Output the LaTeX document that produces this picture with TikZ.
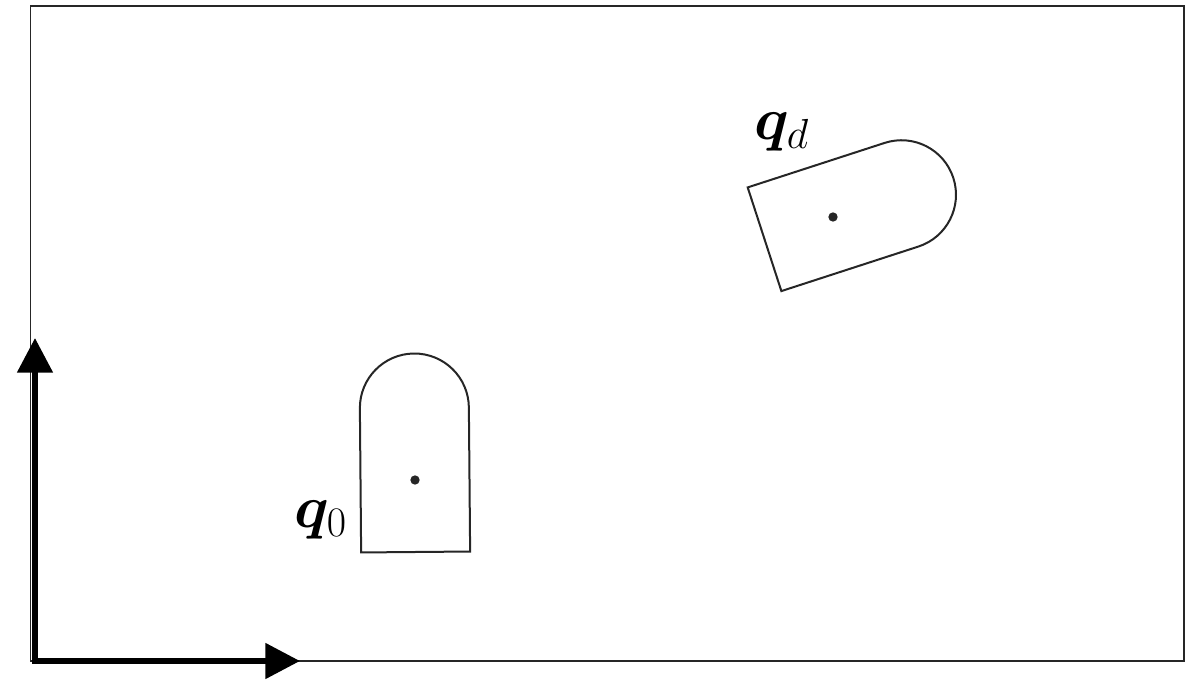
\RequirePackage{fix-cm}
\documentclass[tikz,border=0pt]{standalone}
\usepackage{amsmath,bm}
\usetikzlibrary{arrows.meta}
\begin{document}
\begin{tikzpicture}[x=0.75pt,y=0.75pt,
  frameline/.style={line width=1.4pt,draw=black!85},
  axisline/.style={line width=4.5pt,line join=miter,
    arrows={Triangle[length=26pt,width=26pt]-Triangle[length=26pt,width=26pt]}},
  robot/.style={line width=1.5pt,draw=black!85},
  centerdot/.style={circle,fill=black!85,inner sep=0pt,minimum size=7pt},
  qlabel/.style={inner sep=0pt,font=\fontsize{45}{54}\selectfont}]
\useasboundingbox (0,0) rectangle (1194,682);
% frame
\draw[frameline] (30.5,676) rectangle (1184,21);
% axes
\coordinate (ytip) at (35,344);
\coordinate (org) at (35,21);
\coordinate (xtip) at (300,21);
\draw[axisline] (ytip) -- (org) -- (xtip);
% start configuration
\begin{scope}[shift={(415,202)},rotate=0.5]
  \draw[robot] (-54.5,-72) -- (54.5,-72) -- (54.5,72) arc (0:180:54.5) -- cycle;
  \node[centerdot] (c0) at (0,0) {};
\end{scope}
\node[qlabel,anchor=base east] (q0) at (347,155) {$\bm{q}_0$};
% goal configuration
\begin{scope}[shift={(833,465)},rotate=-72]
  \draw[robot] (-54.5,-72) -- (54.5,-72) -- (54.5,72) arc (0:180:54.5) -- cycle;
  \node[centerdot] (cd) at (0,0) {};
\end{scope}
\node[qlabel,anchor=base west] (qd) at (754,542) {$\bm{q}_d$};
\end{tikzpicture}
\end{document}
